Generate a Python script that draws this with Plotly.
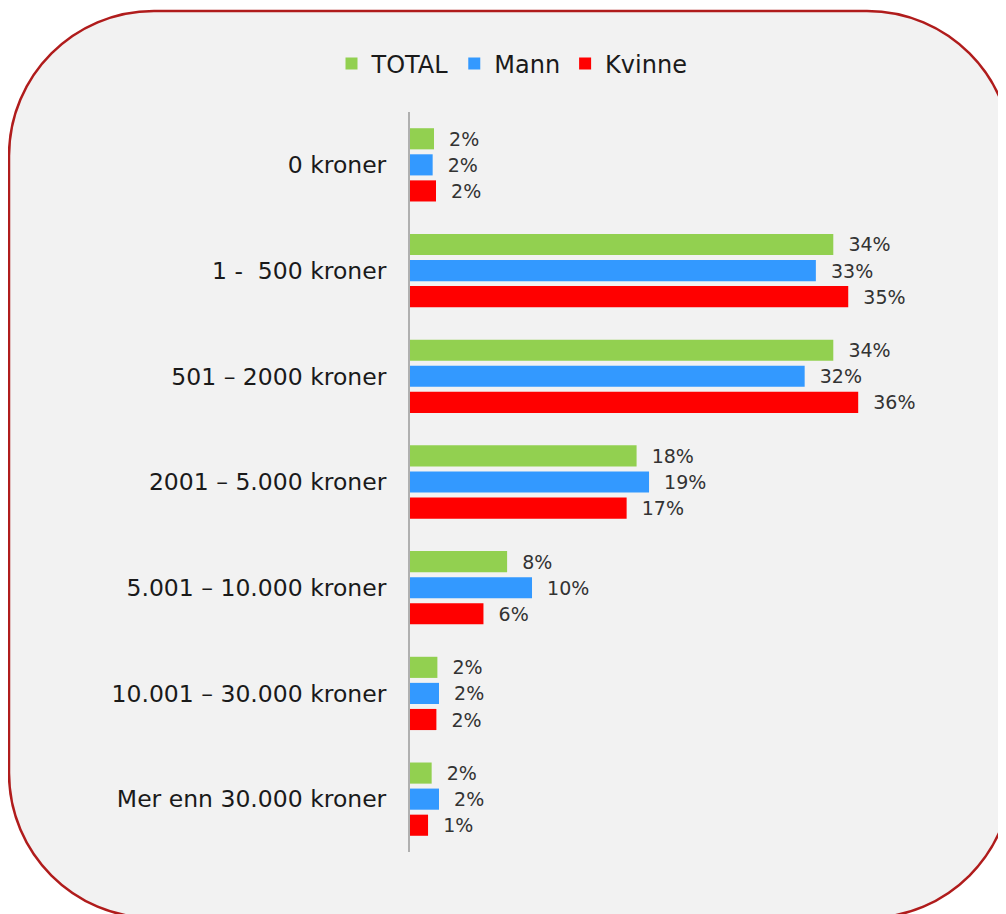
import plotly.graph_objects as go

categories = ["0 kroner", "1 -\u00a0 500 kroner", "501 – 2000 kroner", "2001 – 5.000 kroner",
              "5.001 – 10.000 kroner", "10.001 – 30.000 kroner", "Mer enn 30.000 kroner"]
total = [1.93, 34.0, 34.0, 18.2, 7.8, 2.2, 1.74]
mann = [1.82, 32.6, 31.7, 19.2, 9.8, 2.33, 2.33]
kvinne = [2.09, 35.2, 36.0, 17.4, 5.9, 2.12, 1.45]
series_names = ["TOTAL", "Mann", "Kvinne"]
series_colors = ["#92d050", "#3399ff", "#ff0000"]

OFF = 8  # page body margin
W, H = 1006 - OFF, 914 - OFF
L, T = 410 - OFF, 112 - OFF
PR, PB = 908 - OFF, 852 - OFF
R, B = W - PR, H - PB
PW, PH = PR - L, PB - T

fig = go.Figure()
for name, vals, col in zip(series_names, [total, mann, kvinne], series_colors):
    fig.add_trace(go.Bar(
        y=categories, x=vals, name=name, orientation="h",
        marker=dict(color=col, line=dict(width=0)),
        texttemplate="\u00a0\u00a0%{x:.0f}%", textposition="outside",
        textfont=dict(family="DejaVu Sans", size=19, color="#333333"),
        constraintext="none", cliponaxis=False, hoverinfo="skip",
    ))

def px(x):
    return (x - OFF - L) / PW

def py(y):
    return (PB - (y - OFF)) / PH

# rounded rectangle in page-pixel space
x0, y0, x1, y1, r = 9, 11, 1012, 918, 145
k = 0.5523 * r
def P(x, y):
    return f"{px(x):.5f},{py(y):.5f}"
path = (
    f"M {P(x0 + r, y0)} L {P(x1 - r, y0)} "
    f"C {P(x1 - r + k, y0)} {P(x1, y0 + r - k)} {P(x1, y0 + r)} "
    f"L {P(x1, y1 - r)} "
    f"C {P(x1, y1 - r + k)} {P(x1 - r + k, y1)} {P(x1 - r, y1)} "
    f"L {P(x0 + r, y1)} "
    f"C {P(x0 + r - k, y1)} {P(x0, y1 - r + k)} {P(x0, y1 - r)} "
    f"L {P(x0, y0 + r)} "
    f"C {P(x0, y0 + r - k)} {P(x0 + r - k, y0)} {P(x0 + r, y0)} Z"
)
fig.add_shape(type="path", path=path, xref="paper", yref="paper", layer="below",
              fillcolor="#f2f2f2", line=dict(color="#b01c1c", width=2.5))

fig.update_layout(
    width=W, height=H,
    margin=dict(l=L, r=R, t=T, b=B),
    paper_bgcolor="white", plot_bgcolor="rgba(0,0,0,0)",
    barmode="group", bargap=0.26, bargroupgap=0.19,
    font=dict(family="DejaVu Sans", color="#1a1a1a"),
    showlegend=True,
    legend=dict(orientation="h", x=px(512), xanchor="center", y=py(64), yanchor="middle",
                font=dict(size=24, color="#1a1a1a"), bgcolor="rgba(0,0,0,0)",
                itemwidth=30, traceorder="normal"),
    xaxis=dict(range=[0, 40], visible=False, fixedrange=True),
    yaxis=dict(autorange="reversed", showline=True, linecolor="#b0b0b0", linewidth=2,
               showgrid=False, ticks="", ticklabelstandoff=17,
               tickfont=dict(size=23.5, color="#1a1a1a")),
)

fig.write_html("out.html")
